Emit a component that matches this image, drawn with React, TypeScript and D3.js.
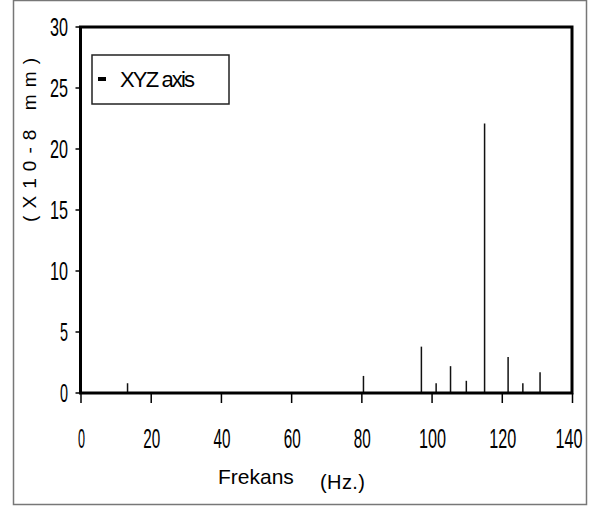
import React from 'react';
import * as d3 from 'd3';

// spectrum peaks
const freqs = [13.4, 80.6, 97.1, 101.3, 105.4, 109.9, 115.1, 121.8, 126.0, 130.9];
const amps = [0.8, 1.4, 3.8, 0.8, 2.2, 1.0, 22.1, 2.95, 0.8, 1.7];
const xTicks = [0, 20, 40, 60, 80, 100, 120, 140];
const yTicks = [0, 5, 10, 15, 20, 25, 30];
const legendLabel = 'XYZ axis';
const xTitle = 'Frekans';
const xUnit = '(Hz.)';
const yTitle = '(X10-8 mm)';

const W = 595;
const H = 510;
const narrow = '"Liberation Sans Narrow", "Liberation Sans", Arial, sans-serif';
const sans = '"Liberation Sans", Arial, sans-serif';

export default function App() {
  const x = d3.scaleLinear().domain([0, 140]).range([80.5, 572]);
  const y = d3.scaleLinear().domain([0, 30]).range([393, 27]);
  const x0 = x(0);
  const x1 = x(140);
  const yTop = y(30);
  const yBot = y(0);

  return (
    <svg width={W} height={H} style={{ position: 'absolute', left: 0, top: 0 }}>
      <rect x={0} y={0} width={W} height={H} fill="white" />
      <rect x={13.5} y={0.5} width={573} height={504} fill="none" stroke="#777" strokeWidth={1.5} />

      {/* y axis */}
      {yTicks.map((t) => (
        <g key={'y' + t}>
          <line x1={x0 - 5} x2={x0} y1={y(t)} y2={y(t)} stroke="black" strokeWidth={1.5} />
          <text
            x={68}
            y={y(t) + 9}
            fontFamily={narrow}
            fontSize={25}
            textAnchor="end"
            textLength={String(t).length * 10 - 2}
            lengthAdjust="spacingAndGlyphs"
          >
            {t}
          </text>
        </g>
      ))}

      {/* x axis */}
      {xTicks.map((t) => (
        <g key={'x' + t}>
          <line x1={x(t) + 0.5} x2={x(t) + 0.5} y1={yBot} y2={yBot + 10} stroke="black" strokeWidth={1.5} />
          <text
            x={t === 140 ? x(t) - 3 : x(t) + 1}
            y={448}
            fontFamily={narrow}
            fontSize={27}
            textAnchor="middle"
            textLength={String(t).length * 10 - 3}
            lengthAdjust="spacingAndGlyphs"
          >
            {t}
          </text>
        </g>
      ))}

      {/* peaks */}
      {freqs.map((f, i) => (
        <line key={'p' + i} x1={x(f)} x2={x(f)} y1={yBot} y2={y(amps[i])} stroke="#111" strokeWidth={1.5} />
      ))}

      {/* frame */}
      <rect x={x0} y={yTop} width={x1 - x0} height={yBot - yTop} fill="none" stroke="black" strokeWidth={3} />

      {/* legend */}
      <rect x={92} y={55} width={137} height={49} fill="white" stroke="#222" strokeWidth={1.5} />
      <rect x={98} y={77} width={8} height={4} fill="black" />
      <text x={120} y={87} fontFamily={narrow} fontSize={22} textLength={75} lengthAdjust="spacing">
        {legendLabel}
      </text>

      {/* titles */}
      <text x={218} y={484} fontFamily={sans} fontSize={21}>
        {xTitle}
      </text>
      <text x={320} y={489} fontFamily={narrow} fontSize={20} textLength={45} lengthAdjust="spacing">
        {xUnit}
      </text>
      <text
        transform="translate(36,140) rotate(-90)"
        fontFamily={sans}
        fontSize={19}
        textAnchor="middle"
        textLength={164}
        lengthAdjust="spacing"
      >
        {yTitle}
      </text>
    </svg>
  );
}
